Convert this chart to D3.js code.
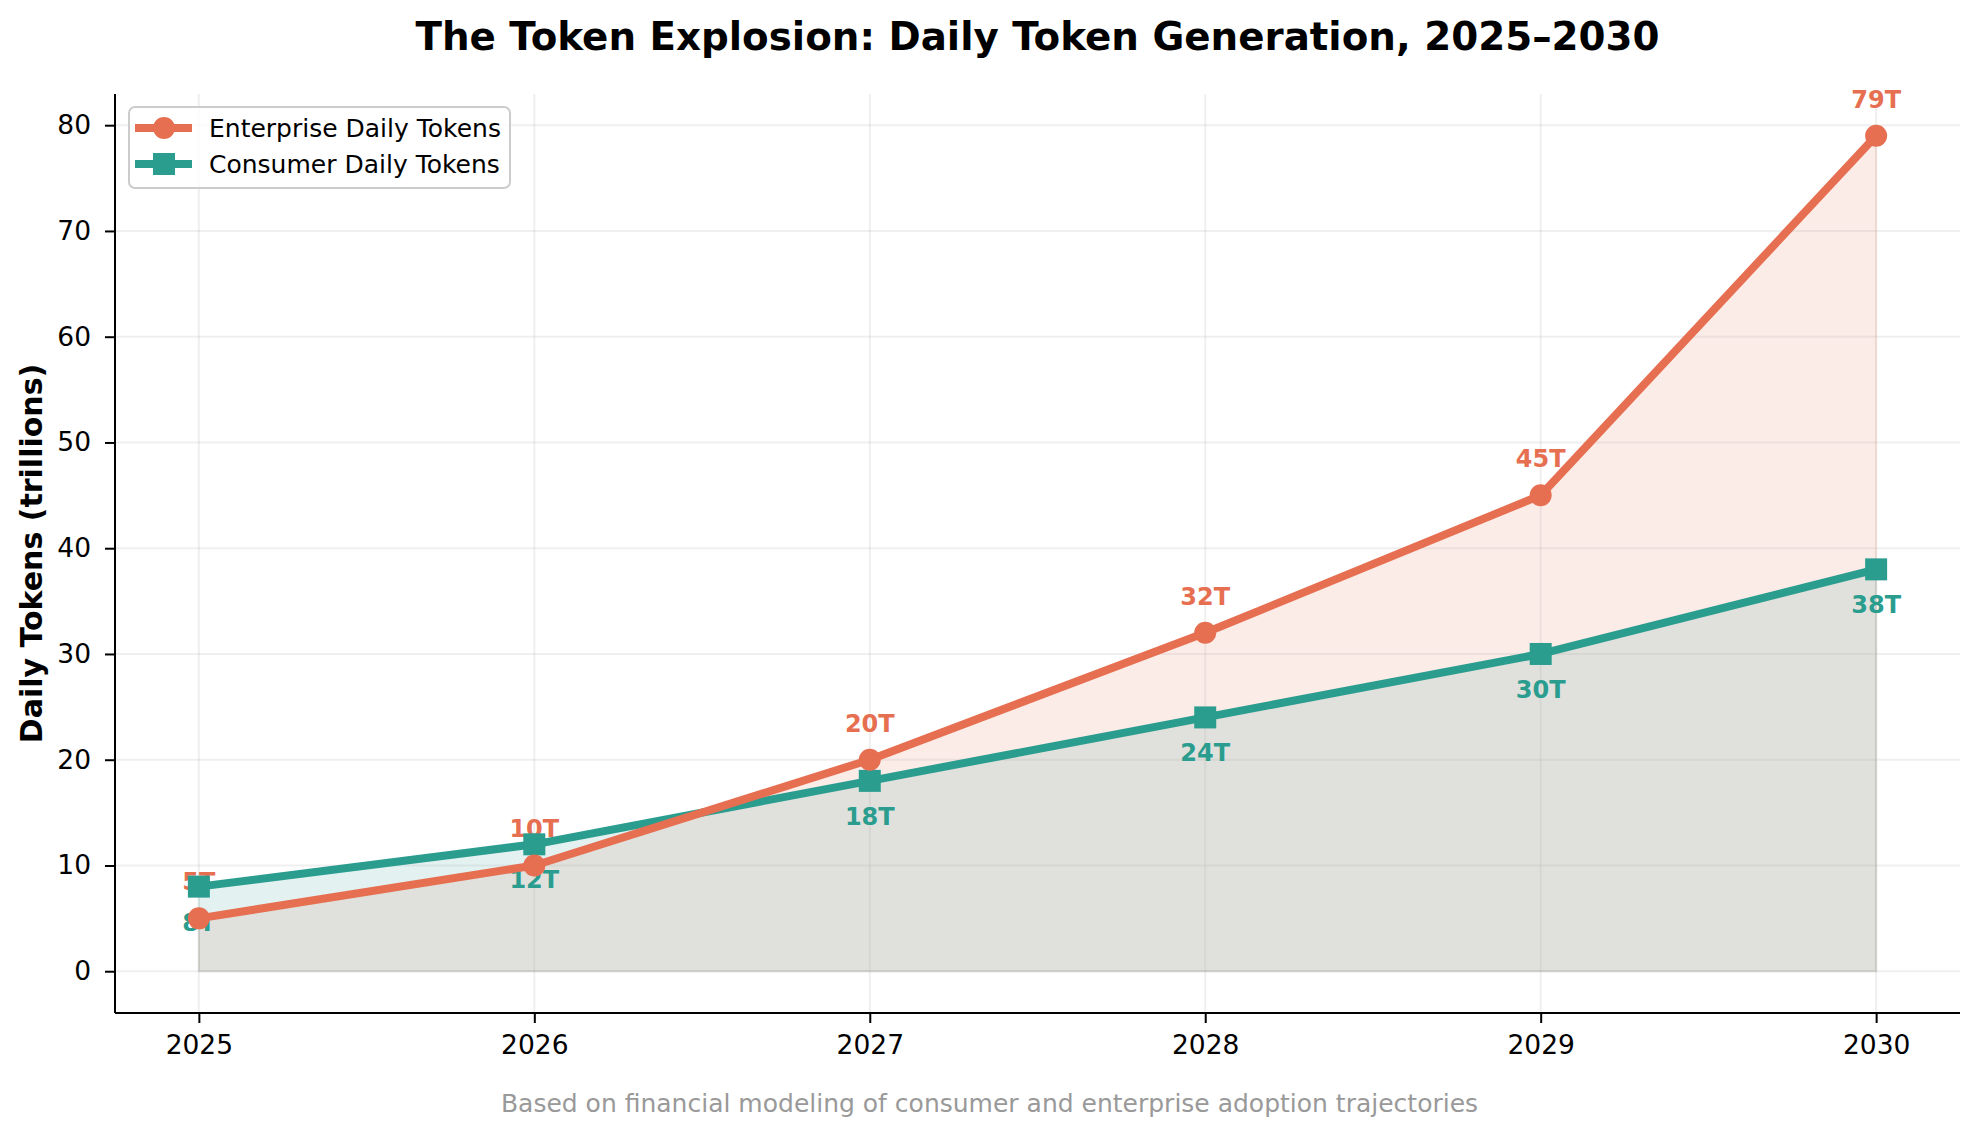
<!DOCTYPE html>
<html>
<head>
<meta charset="utf-8">
<script src="https://cdn.jsdelivr.net/npm/d3@7"></script>
<style>
  html, body { margin: 0; padding: 0; background: #fff; }
  svg { display: block; font-family: "DejaVu Sans", sans-serif; }
</style>
</head>
<body>
<svg id="chart" width="1979" height="1137"></svg>
<script>
const years = [2025, 2026, 2027, 2028, 2029, 2030];
const enterprise = [5, 10, 20, 32, 45, 79];
const consumer = [8, 12, 18, 24, 30, 38];
const yTicks = [0, 10, 20, 30, 40, 50, 60, 70, 80];
const seriesNames = ["Enterprise Daily Tokens", "Consumer Daily Tokens"];
const titleText = "The Token Explosion: Daily Token Generation, 2025–2030";
const yLabelText = "Daily Tokens (trillions)";
const footText = "Based on financial modeling of consumer and enterprise adoption trajectories";

const CORAL = "#E76F51", TEAL = "#2A9D8F";
const W = 1979, H = 1137;
const L = 115, R = 1960, T = 94, B = 1013;

const svg = d3.select("#chart");
const x = d3.scaleLinear().domain([2024.75, 2030.25]).range([L, R]);
const y = d3.scaleLinear().domain([-3.95, 82.95]).range([B, T]);

const entData = years.map((yr, i) => ({ yr, v: enterprise[i] }));
const conData = years.map((yr, i) => ({ yr, v: consumer[i] }));

// fills
const area = d3.area().x(d => x(d.yr)).y0(y(0)).y1(d => y(d.v));
svg.append("path").datum(entData).attr("d", area)
  .attr("fill", CORAL).attr("fill-opacity", 0.13)
  .attr("stroke", CORAL).attr("stroke-opacity", 0.13).attr("stroke-width", 2);
svg.append("path").datum(conData).attr("d", area)
  .attr("fill", TEAL).attr("fill-opacity", 0.13)
  .attr("stroke", TEAL).attr("stroke-opacity", 0.13).attr("stroke-width", 2);

// grid
const grid = svg.append("g");
grid.selectAll("line.gy").data(yTicks).join("line")
  .attr("x1", L).attr("x2", R).attr("y1", d => y(d)).attr("y2", d => y(d))
  .attr("stroke", "#b0b0b0").attr("stroke-opacity", 0.2).attr("stroke-width", 2);
grid.selectAll("line.gx").data(years).join("line")
  .attr("y1", T).attr("y2", B).attr("x1", d => x(d)).attr("x2", d => x(d))
  .attr("stroke", "#b0b0b0").attr("stroke-opacity", 0.2).attr("stroke-width", 2);

// axes
const xAxis = svg.append("g").attr("transform", `translate(0,${B})`)
  .call(d3.axisBottom(x).tickValues(years).tickFormat(d3.format("d")).tickSize(10).tickPadding(12).tickSizeOuter(0));
const yAxis = svg.append("g").attr("transform", `translate(${L},0)`)
  .call(d3.axisLeft(y).tickValues(yTicks).tickSize(10).tickPadding(14).tickSizeOuter(0));
[xAxis, yAxis].forEach(a => {
  a.select(".domain").attr("stroke", "#000").attr("stroke-width", 2);
  a.selectAll(".tick line").attr("stroke", "#000").attr("stroke-width", 2);
  a.selectAll(".tick text").attr("fill", "#000").style("font-size", "26.5px")
    .style("font-family", "DejaVu Sans");
});
xAxis.select(".domain").attr("d", `M${L},0H${R}`);
yAxis.select(".domain").attr("d", `M0,${T}V${B}`);

// value labels (under the lines)
svg.append("g").selectAll("text").data(entData).join("text")
  .attr("x", d => x(d.yr)).attr("y", d => y(d.v) - 28)
  .attr("text-anchor", "middle").attr("fill", CORAL)
  .style("font-size", "24px").style("font-weight", "bold")
  .text(d => d.v + "T");
svg.append("g").selectAll("text").data(conData).join("text")
  .attr("x", d => x(d.yr)).attr("y", d => y(d.v) + 44)
  .attr("text-anchor", "middle").attr("fill", TEAL)
  .style("font-size", "24px").style("font-weight", "bold")
  .text(d => d.v + "T");

// lines
const line = d3.line().x(d => x(d.yr)).y(d => y(d.v));
svg.append("path").datum(conData).attr("d", line).attr("fill", "none")
  .attr("stroke", TEAL).attr("stroke-width", 8).attr("stroke-linejoin", "round");
svg.append("g").selectAll("rect").data(conData).join("rect")
  .attr("x", d => x(d.yr) - 11).attr("y", d => y(d.v) - 11)
  .attr("width", 22).attr("height", 22).attr("fill", TEAL);
svg.append("path").datum(entData).attr("d", line).attr("fill", "none")
  .attr("stroke", CORAL).attr("stroke-width", 8).attr("stroke-linejoin", "round");
svg.append("g").selectAll("circle").data(entData).join("circle")
  .attr("cx", d => x(d.yr)).attr("cy", d => y(d.v)).attr("r", 11).attr("fill", CORAL);

// legend
const lg = svg.append("g");
lg.append("rect").attr("x", 129).attr("y", 107).attr("width", 381).attr("height", 81)
  .attr("rx", 6).attr("fill", "#fff").attr("fill-opacity", 0.8)
  .attr("stroke", "#cccccc").attr("stroke-width", 2);
const legendRows = [
  { name: seriesNames[0], color: CORAL, shape: "circle", cy: 128 },
  { name: seriesNames[1], color: TEAL, shape: "square", cy: 164 }
];
legendRows.forEach(r => {
  lg.append("line").attr("x1", 135).attr("x2", 192).attr("y1", r.cy).attr("y2", r.cy)
    .attr("stroke", r.color).attr("stroke-width", 8);
  if (r.shape === "circle") {
    lg.append("circle").attr("cx", 164).attr("cy", r.cy).attr("r", 11).attr("fill", r.color);
  } else {
    lg.append("rect").attr("x", 153).attr("y", r.cy - 11).attr("width", 22).attr("height", 22).attr("fill", r.color);
  }
  lg.append("text").attr("x", 209).attr("y", r.cy + 9)
    .style("font-size", "25px").attr("fill", "#000").text(r.name);
});

// title
svg.append("text").attr("x", (L + R) / 2).attr("y", 50).attr("text-anchor", "middle")
  .style("font-size", "38.8px").style("font-weight", "bold").attr("fill", "#000")
  .text(titleText);

// y label
svg.append("text").attr("transform", `translate(42,${(T + B) / 2}) rotate(-90)`)
  .attr("text-anchor", "middle").style("font-size", "30px").style("font-weight", "bold")
  .attr("fill", "#000").text(yLabelText);

// footnote
svg.append("text").attr("x", W / 2).attr("y", 1112).attr("text-anchor", "middle")
  .style("font-size", "25px").attr("fill", "#999999").text(footText);
</script>
</body>
</html>
